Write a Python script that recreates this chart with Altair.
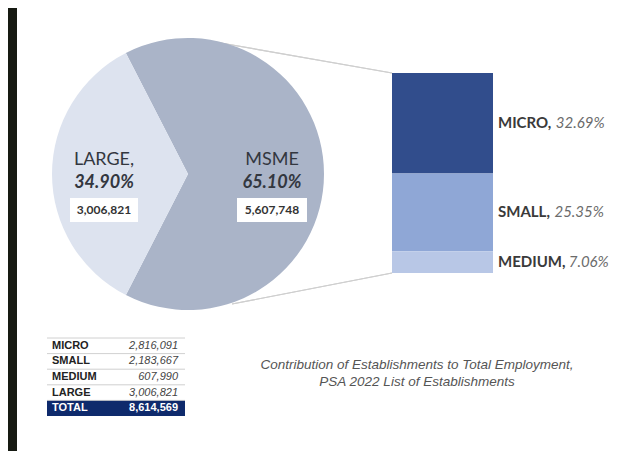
import altair as alt
import pandas as pd

# ---------------- data ----------------
pie_groups = ["MSME", "LARGE"]
pie_names = ["MSME", "LARGE,"]
pie_shares = [65.10, 34.90]
pie_counts = [5607748, 3006821]

bar_groups = ["MICRO", "SMALL", "MEDIUM"]
bar_shares = [32.69, 25.35, 7.06]

table_rows = ["MICRO", "SMALL", "MEDIUM", "LARGE", "TOTAL"]
table_values = [2816091, 2183667, 607990, 3006821, 8614569]

caption_lines = ["Contribution of Establishments to Total Employment,",
                 "PSA 2022 List of Establishments"]

# ---------------- tables ----------------
pie_df = pd.DataFrame({
    "group": pie_groups,
    "name": pie_names,
    "pct": pie_shares,
    "idx": list(range(len(pie_groups))),
    "pct_label": [f"{v:.2f}%" for v in pie_shares],
    "count_label": [f"{v:,}" for v in pie_counts],
})

bar_df = pd.DataFrame({
    "group": bar_groups,
    "pct": bar_shares,
    "ord": [2, 1, 0],
    "name": [g + "," for g in bar_groups],
    "pct_label": [f"{v:.2f}%" for v in bar_shares],
})

table_df = pd.DataFrame({
    "row": table_rows,
    "value_label": [f"{v:,}" for v in table_values],
})

cap_df = pd.DataFrame({"text": ["\n".join(caption_lines)]})

# ---------------- layout constants ----------------
PI = 3.141592653589793
CX, CY, R = 180, 166, 136
START = 2 * PI - 0.4747
BAR_X0, BAR_X1 = 384, 485
BAR_TOP, BAR_BOT = 65, 265
LABEL_X = 490
PIE_COLORS = ["#aab4c8", "#dde3ef"]
BAR_COLORS = ["#314d8c", "#8fa7d6", "#b8c7e6"]
TXT = "#33373f"

theta = alt.Theta("pct:Q", stack=True,
                  scale=alt.Scale(range=[START, START + 2 * PI]))
order = alt.Order("idx:Q", sort="ascending")

base_pie = alt.Chart(pie_df).encode(
    theta=theta, order=order,
    x=alt.value(CX), y=alt.value(CY))

pie = base_pie.mark_arc(radius=R).encode(
    color=alt.Color("group:N", scale=alt.Scale(domain=pie_groups, range=PIE_COLORS), legend=None))

pie_name = base_pie.mark_text(radius=84, dy=-14, font="Lato", fontSize=18,
                              color=TXT).encode(text="name:N")
pie_pct = base_pie.mark_text(radius=84, dy=9, font="Lato", fontSize=18, fontStyle="italic",
                             fontWeight="bold", color=TXT).encode(text="pct_label:N")

box_large = alt.Chart(pie_df).transform_filter(alt.datum.group == "LARGE").mark_rect(color="white").encode(
    x=alt.value(62), x2=alt.value(130), y=alt.value(190), y2=alt.value(214))
box_msme = alt.Chart(pie_df).transform_filter(alt.datum.group == "MSME").mark_rect(color="white").encode(
    x=alt.value(229), x2=alt.value(299), y=alt.value(190), y2=alt.value(214))
pie_count = base_pie.mark_text(radius=84, dy=36, font="Lato", fontSize=12, fontWeight="bold",
                               color="#333333").encode(text="count_label:N")

# connectors
conn_top = alt.Chart(pie_df).mark_rule(color="#cfcfcf", strokeWidth=1.2).encode(
    x=alt.value(207), y=alt.value(34), x2=alt.value(BAR_X0), y2=alt.value(BAR_TOP))
conn_bot = alt.Chart(pie_df).mark_rule(color="#cfcfcf", strokeWidth=1.2).encode(
    x=alt.value(224), y=alt.value(296), x2=alt.value(BAR_X0), y2=alt.value(BAR_BOT))

# stacked bar
ys = alt.Scale(domain=[0, sum(bar_shares)], range=[BAR_BOT, BAR_TOP])
bar_base = alt.Chart(bar_df).transform_stack(
    stack="pct", groupby=[], as_=["y0", "y1"], sort=[alt.SortField("ord", "ascending")]
).transform_calculate(ym="(datum.y0 + datum.y1) / 2")

bar = bar_base.mark_rect().encode(
    x=alt.value(BAR_X0), x2=alt.value(BAR_X1),
    y=alt.Y("y0:Q", scale=ys, axis=None), y2="y1:Q",
    color=alt.Color("group:N", scale=alt.Scale(domain=bar_groups, range=BAR_COLORS), legend=None))

bar_name = bar_base.mark_text(align="left", font="Lato", fontSize=15, fontWeight="bold",
                              color="#3a3a3a").encode(
    x=alt.value(LABEL_X), y=alt.Y("ym:Q", scale=ys, axis=None), text="name:N")

# approximate advance widths (em) of Lato Bold for placing the percentage after the name
W = {"M": .89, "I": .29, "C": .66, "R": .63, "O": .76, ",": .23, " ": .26, "S": .54,
     "A": .69, "L": .51, "E": .57, "D": .74, "U": .71}
bar_pcts = []
for g in bar_groups:
    w = sum(W.get(c, .6) for c in g + ", ") * 15 + 2
    bar_pcts.append(
        bar_base.transform_filter(alt.datum.group == g).mark_text(
            align="left", dx=w, font="Lato", fontSize=15, fontStyle="italic",
            color="#6b6b6b").encode(
            x=alt.value(LABEL_X), y=alt.Y("ym:Q", scale=ys, axis=None), text="pct_label:N"))

# table
TF = 11
ts = alt.Scale(domain=table_rows, range=[330, 408], paddingInner=0, paddingOuter=0)
tbase = alt.Chart(table_df)
t_bg = tbase.transform_filter(alt.datum.row == "TOTAL").mark_rect(color="#0e2a6c").encode(
    x=alt.value(39), x2=alt.value(177), y=alt.Y("row:N", scale=ts, axis=None))
t_lines = tbase.mark_rule(color="#c4c4c4", strokeWidth=0.8).encode(
    x=alt.value(39), x2=alt.value(177),
    y=alt.Y("row:N", scale=ts, axis=None, bandPosition=0))
t_lab = tbase.transform_filter(alt.datum.row != "TOTAL").mark_text(
    align="left", font="Liberation Sans", fontSize=TF, fontWeight="bold", color="#222222").encode(
    x=alt.value(44), y=alt.Y("row:N", scale=ts, axis=None), text="row:N")
t_val = tbase.transform_filter(alt.datum.row != "TOTAL").mark_text(
    align="right", font="Liberation Sans", fontSize=TF, fontStyle="italic", color="#444444").encode(
    x=alt.value(170), y=alt.Y("row:N", scale=ts, axis=None), text="value_label:N")
t_lab_tot = tbase.transform_filter(alt.datum.row == "TOTAL").mark_text(
    align="left", font="Liberation Sans", fontSize=TF, fontWeight="bold", color="white").encode(
    x=alt.value(44), y=alt.Y("row:N", scale=ts, axis=None), text="row:N")
t_val_tot = tbase.transform_filter(alt.datum.row == "TOTAL").mark_text(
    align="right", font="Liberation Sans", fontSize=TF, fontWeight="bold", color="white").encode(
    x=alt.value(170), y=alt.Y("row:N", scale=ts, axis=None), text="value_label:N")

caption = alt.Chart(cap_df).mark_text(
    align="center", baseline="middle", lineBreak="\n", lineHeight=17,
    font="Liberation Sans", fontSize=13.5, fontStyle="italic", color="#555555").encode(
    x=alt.value(409), y=alt.value(357), text="text:N")

edge = alt.Chart(cap_df).mark_rect(color="#161a12").encode(
    x=alt.value(0), x2=alt.value(9), y=alt.value(0), y2=alt.value(443))

chart = alt.layer(
    edge, conn_top, conn_bot, pie, box_large, box_msme, pie_name, pie_pct, pie_count,
    bar, bar_name, *bar_pcts,
    t_bg, t_lines, t_lab, t_val, t_lab_tot, t_val_tot, caption
).resolve_scale(
    x="independent", y="independent", color="independent"
).properties(
    width=620, height=443, padding=0,
    autosize=alt.AutoSizeParams(type="none"), background="white"
).configure_view(stroke=None)

chart.save("out.html", embed_options={"renderer": "svg", "actions": False})
